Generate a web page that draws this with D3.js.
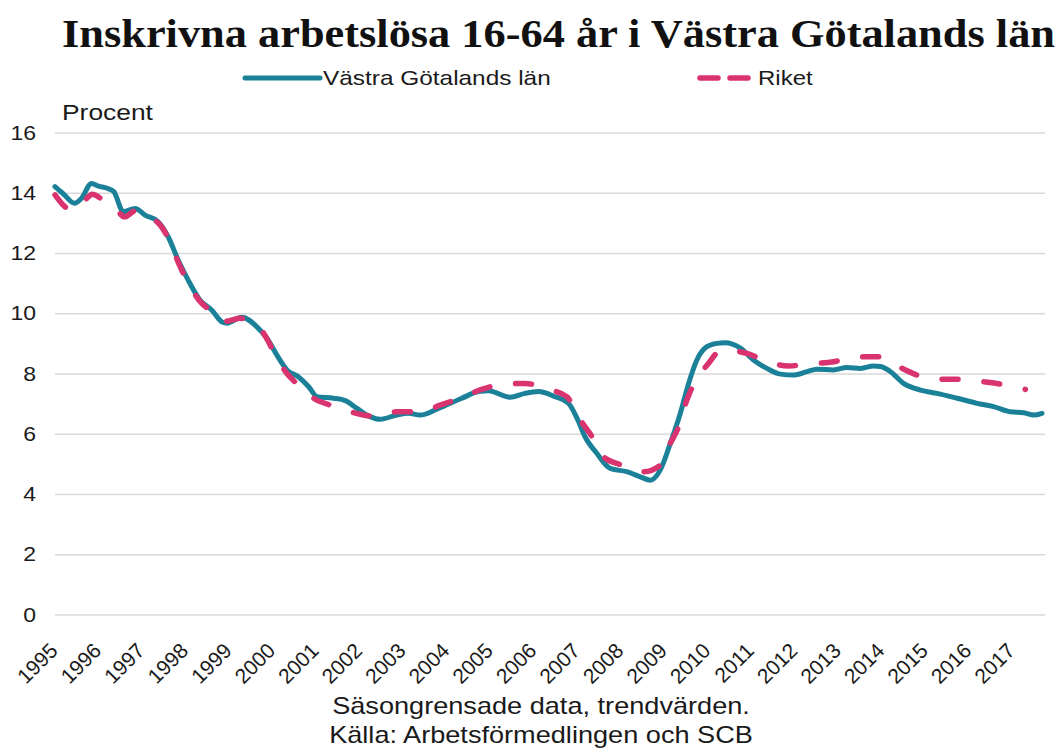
<!DOCTYPE html>
<html><head><meta charset="utf-8">
<script src="https://cdn.jsdelivr.net/npm/d3@7"></script>
<style>body{margin:0;background:#fff} svg{display:block}</style>
</head><body>
<svg id="c" width="1059" height="749"></svg>
<script>
const titleText = "Inskrivna arbetslösa 16-64 år i Västra Götalands län";
const seriesNames = ["Västra Götalands län", "Riket"];
const yAxisTitle = "Procent";
const yTicks = [0, 2, 4, 6, 8, 10, 12, 14, 16];
const yearLabels = d3.range(1995, 2018);
const notes = ["Säsongrensade data, trendvärden.", "Källa: Arbetsförmedlingen och SCB"];

// [decimal year, percent]
const vgData = [
  [1995.0,14.2],[1995.2,13.95],[1995.45,13.65],[1995.6,13.8],[1995.84,14.31],[1996.0,14.22],
  [1996.2,14.15],[1996.35,14.04],[1996.57,13.37],[1996.84,13.48],[1997.07,13.26],[1997.37,13.04],
  [1997.6,12.54],[1997.83,11.77],[1998.06,11.1],[1998.33,10.44],[1998.6,10.11],[1998.85,9.7],
  [1998.95,9.67],[1999.29,9.87],[1999.64,9.55],[1999.87,9.17],[2000.1,8.61],[2000.33,8.12],
  [2000.59,7.89],[2000.83,7.56],[2001.02,7.23],[2001.4,7.18],[2001.67,7.1],[2001.94,6.84],
  [2002.24,6.57],[2002.47,6.48],[2002.85,6.62],[2003.12,6.68],[2003.39,6.62],[2003.81,6.84],
  [2004.35,7.18],[2004.73,7.4],[2004.96,7.43],[2005.46,7.21],[2005.8,7.34],[2006.11,7.4],
  [2006.49,7.23],[2006.8,7.01],[2007.0,6.5],[2007.18,5.9],[2007.45,5.35],[2007.76,4.85],
  [2008.14,4.74],[2008.45,4.57],[2008.68,4.46],[2008.91,4.8],[2009.14,5.68],[2009.37,6.68],
  [2009.56,7.67],[2009.75,8.45],[2009.98,8.89],[2010.21,9.0],[2010.4,9.02],[2010.75,8.84],
  [2011.05,8.45],[2011.36,8.17],[2011.67,7.98],[2011.97,7.95],[2012.28,8.06],[2012.51,8.14],
  [2012.89,8.12],[2013.2,8.2],[2013.51,8.17],[2013.81,8.25],[2013.97,8.23],[2014.2,8.06],
  [2014.5,7.67],[2014.89,7.45],[2015.27,7.34],[2015.73,7.18],[2016.19,7.01],[2016.57,6.9],
  [2016.95,6.73],[2017.26,6.7],[2017.49,6.62],[2017.68,6.68]
];
const riketData = [
  [1995.0,13.93],[1995.38,13.43],[1995.6,13.6],[1995.77,13.87],[1995.85,13.95],[1996.15,13.7],
  [1996.4,13.45],[1996.6,13.2],[1996.85,13.4],[1997.07,13.2],[1997.37,13.0],[1997.6,12.5],
  [1997.83,11.7],[1998.06,11.0],[1998.33,10.4],[1998.6,10.05],[1998.87,9.72],[1999.25,9.83],
  [1999.71,9.5],[1999.87,9.15],[2000.1,8.5],[2000.33,8.0],[2000.55,7.67],[2000.94,7.18],
  [2001.44,6.9],[2001.86,6.7],[2002.4,6.57],[2002.85,6.73],[2003.43,6.73],[2003.85,6.95],
  [2004.4,7.23],[2004.8,7.47],[2005.35,7.65],[2005.8,7.67],[2006.34,7.47],[2006.76,7.23],
  [2007.07,6.46],[2007.34,5.9],[2007.6,5.24],[2008.02,4.96],[2008.52,4.74],[2008.91,4.96],
  [2009.14,5.68],[2009.33,6.23],[2009.52,7.12],[2009.71,7.73],[2010.02,8.34],[2010.25,8.72],
  [2010.4,8.76],[2010.9,8.67],[2011.36,8.39],[2011.86,8.25],[2012.36,8.32],[2012.89,8.39],
  [2013.35,8.54],[2013.89,8.56],[2014.31,8.28],[2014.81,7.95],[2015.27,7.81],[2015.8,7.81],
  [2016.3,7.73],[2016.84,7.62],[2017.3,7.47]
];
const colors = ["#1b8199", "#d93370"];

const svg = d3.select("#c");
const x = d3.scaleLinear().domain([1995, 2017.75]).range([55, 1045]);
const y = d3.scaleLinear().domain([0, 16]).range([614.5, 132.5]);
const sansFont = "'Liberation Sans', Arial, sans-serif";

// gridlines
svg.append("g")
  .attr("transform", "translate(55,0)")
  .call(d3.axisLeft(y).tickValues(yTicks).tickSize(-990).tickFormat(""))
  .call(g => g.select(".domain").remove())
  .call(g => g.selectAll("line").attr("stroke", "#d9d9d9").attr("stroke-width", 1.5));

// y tick labels
svg.append("g").selectAll("text").data(yTicks).join("text")
  .attr("transform", d => `translate(36,${y(d)}) scale(1.15,1)`)
  .attr("text-anchor", "end").attr("dy", "0.36em")
  .attr("font-family", sansFont).attr("font-size", 20).attr("fill", "#1a1a1a")
  .text(d => d);

// x labels
svg.append("g").selectAll("text").data(yearLabels).join("text")
  .attr("transform", d => `translate(${x(d) + 4},652) rotate(-45)`)
  .attr("text-anchor", "end")
  .attr("font-family", sansFont).attr("font-size", 21).attr("fill", "#1a1a1a")
  .text(d => d);

// y axis title
svg.append("text").attr("transform", "translate(62,120) scale(1.2,1)")
  .attr("font-family", sansFont).attr("font-size", 22).attr("fill", "#1a1a1a")
  .text(yAxisTitle);

// lines
const line = d3.line().x(d => x(d[0])).y(d => y(d[1])).curve(d3.curveMonotoneX);
svg.append("path").datum(vgData).attr("d", line)
  .attr("fill", "none").attr("stroke", colors[0]).attr("stroke-width", 5)
  .attr("stroke-linejoin", "round").attr("stroke-linecap", "round");
svg.append("path").datum(riketData).attr("d", line)
  .attr("fill", "none").attr("stroke", colors[1]).attr("stroke-width", 5.5)
  .attr("stroke-dasharray", "16,26").attr("stroke-linecap", "round");

// title
svg.append("text").attr("x", 62).attr("y", 47)
  .attr("font-family", "'Liberation Serif', 'DejaVu Serif', serif").attr("font-weight", "bold")
  .attr("font-size", 39).attr("fill", "#111")
  .attr("textLength", 993).attr("lengthAdjust", "spacingAndGlyphs")
  .text(titleText);

// legend
const leg = svg.append("g");
leg.append("line").attr("x1", 245).attr("x2", 320).attr("y1", 78).attr("y2", 78)
  .attr("stroke", colors[0]).attr("stroke-width", 5).attr("stroke-linecap", "round");
leg.append("text").attr("transform", "translate(323,85) scale(1.22,1)")
  .attr("font-family", sansFont).attr("font-size", 20).attr("fill", "#1a1a1a").text(seriesNames[0]);
leg.append("line").attr("x1", 700).attr("x2", 755).attr("y1", 78).attr("y2", 78)
  .attr("stroke", colors[1]).attr("stroke-width", 5.5).attr("stroke-dasharray", "18,12").attr("stroke-linecap", "round");
leg.append("text").attr("transform", "translate(758,85) scale(1.2,1)")
  .attr("font-family", sansFont).attr("font-size", 20).attr("fill", "#1a1a1a").text(seriesNames[1]);

// notes
svg.append("g").selectAll("text").data(notes).join("text")
  .attr("transform", (d, i) => `translate(541,${714 + i * 29}) scale(1.18,1)`)
  .attr("text-anchor", "middle")
  .attr("font-family", sansFont).attr("font-size", 23).attr("fill", "#1a1a1a")
  .text(d => d);
</script>
</body></html>
